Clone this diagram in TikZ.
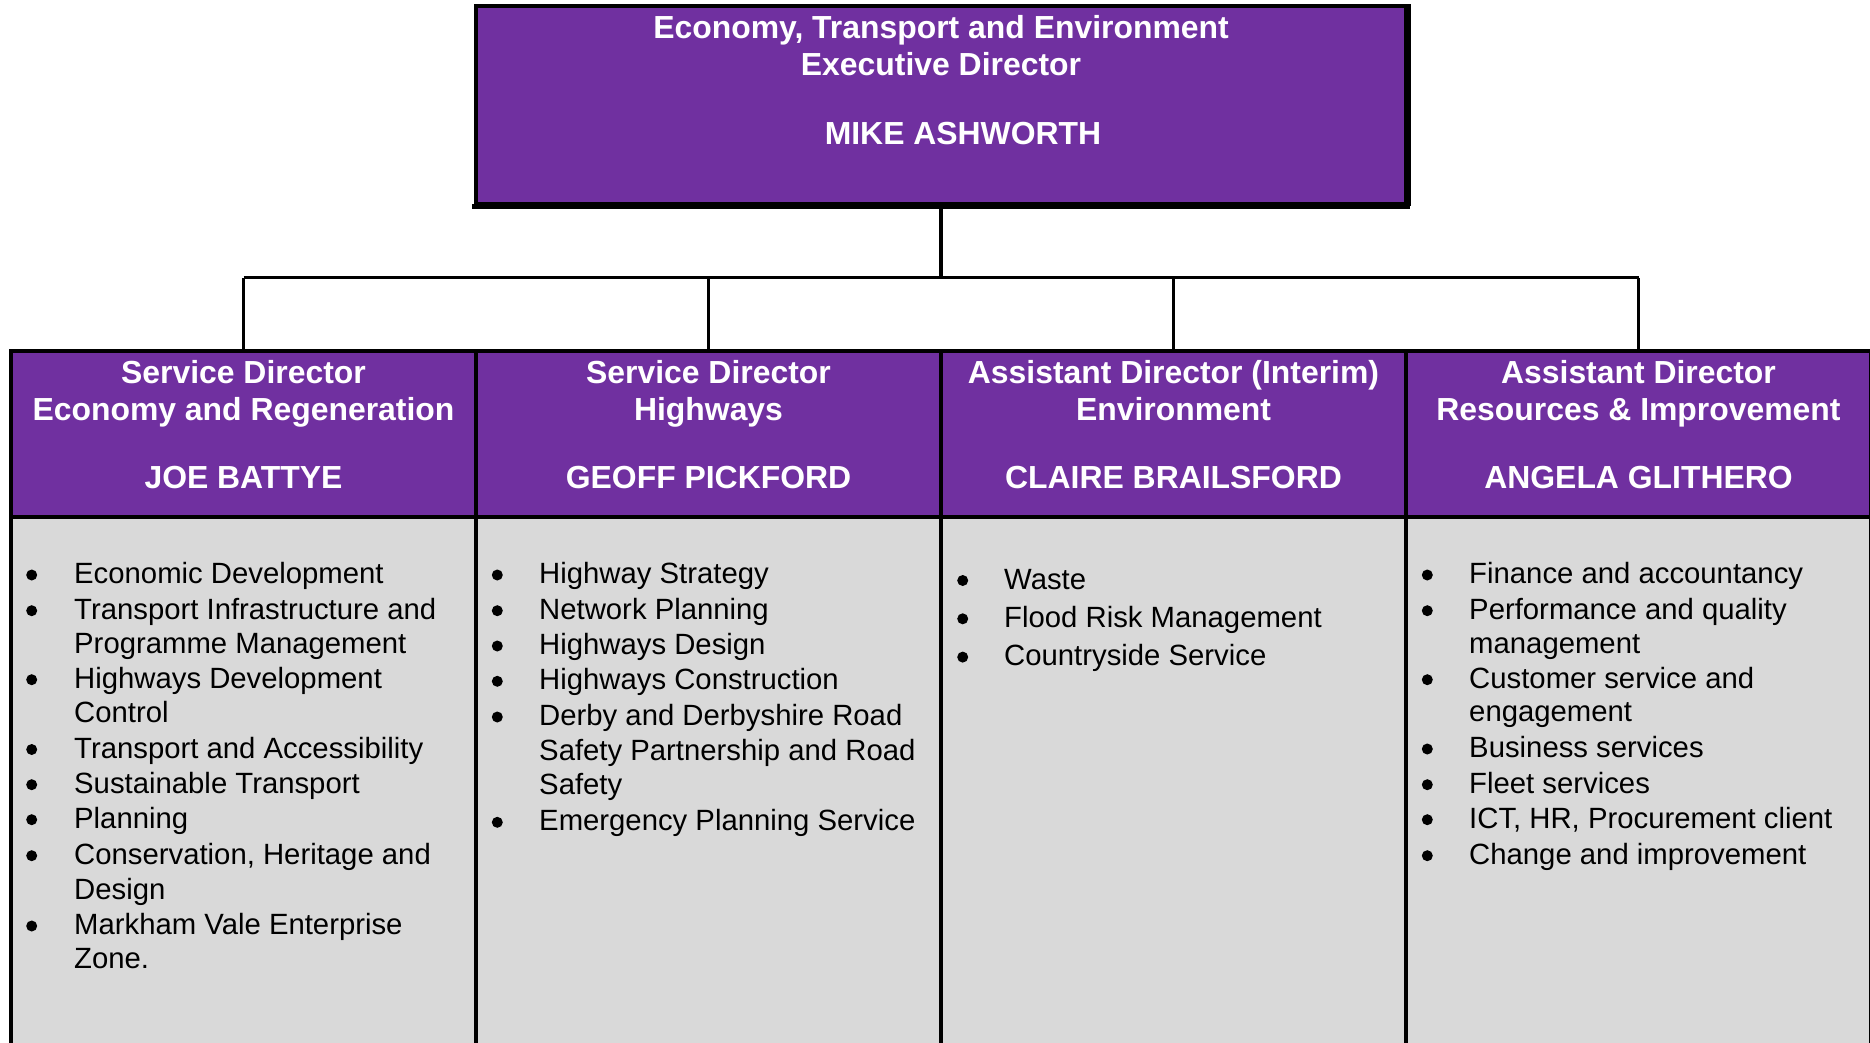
\documentclass[tikz,border=0pt]{standalone}
\usepackage{fontspec}
\setmainfont{Liberation Sans}
\definecolor{ppl}{HTML}{7030A0}
\definecolor{gry}{HTML}{D9D9D9}
\begin{document}
\begin{tikzpicture}[x=1pt,y=-1pt,
  ln/.style={line width=3.8pt, draw=black},
  topbox/.style={ln, fill=ppl, minimum width=930pt, minimum height=198pt, inner sep=0},
  hbox/.style={ln, fill=ppl, minimum width=465pt, minimum height=166pt, inner sep=0},
  bbox/.style={ln, fill=gry, minimum width=465pt, minimum height=600pt, inner sep=0},
  htxt/.style={font=\fontsize{31.9}{37}\selectfont\bfseries, text=white, anchor=base, inner sep=0},
  btxt/.style={font=\fontsize{29.3}{35}\selectfont, text=black, anchor=base west, inner sep=0},
  bul/.style={circle, fill=black, inner sep=0, minimum size=11pt}]
\useasboundingbox (0,0) rectangle (1870,1043);
\clip (0,0) rectangle (1870,1043);

% boxes
\node[bbox] (b1) at (243.5,817) {};
\node[bbox] (b2) at (708.5,817) {};
\node[bbox] (b3) at (1173.5,817) {};
\node[bbox] (b4) at (1638.5,817) {};
\node[hbox] (h1) at (243.5,434) {};
\node[hbox] (h2) at (708.5,434) {};
\node[hbox] (h3) at (1173.5,434) {};
\node[hbox] (h4) at (1638.5,434) {};
\node[topbox] (top) at (941,105) {};
\draw[line width=5pt] ([yshift=-1pt,xshift=-1.9pt]top.south west) -- ([yshift=-1pt,xshift=2.5pt]top.south east);
\draw[line width=4.5pt] ([xshift=0.8pt]top.north east) -- ([xshift=0.8pt]top.south east);

% connectors
\coordinate (bus) at (941,277.5);
\draw[ln] (top.south) -- (bus);
\draw[ln] (h1.north |- bus) -- (h4.north |- bus);
\foreach \h in {h1,h2,h3,h4} \draw[ln] (\h.north |- bus) -- (\h.north);

% top text
\node[htxt] (t1) at (941,38.5) {Economy, Transport and Environment};
\node[htxt] (t2) at (941,75.5) {Executive Director};
\node[htxt] (t3) at (963,144.5) {MIKE ASHWORTH};

% header texts
\node[htxt] (h1a) at (243.5,383.5) {Service Director};
\node[htxt] (h1b) at (243.5,420.5) {Economy and Regeneration};
\node[htxt] (h1c) at (243.5,488.5) {JOE BATTYE};
\node[htxt] (h2a) at (708.5,383.5) {Service Director};
\node[htxt] (h2b) at (708.5,420.5) {Highways};
\node[htxt] (h2c) at (708.5,488.5) {GEOFF PICKFORD};
\node[htxt] (h3a) at (1173.5,383.5) {Assistant Director (Interim)};
\node[htxt] (h3b) at (1173.5,420.5) {Environment};
\node[htxt] (h3c) at (1173.5,488.5) {CLAIRE BRAILSFORD};
\node[htxt] (h4a) at (1638.5,383.5) {Assistant Director};
\node[htxt] (h4b) at (1638.5,420.5) {Resources \& Improvement};
\node[htxt] (h4c) at (1638.5,488.5) {ANGELA GLITHERO};

% column 1
\foreach \y [count=\i] in {583.5,619.2,688.2,758,793.2,828.2,864.2,934.5}
  \node[bul] (u1\i) at (31.7,\y-8.5) {};
\node[btxt] (c1a) at (74,583.5) {Economic Development};
\node[btxt] (c1b) at (74,619.2) {Transport Infrastructure and};
\node[btxt] (c1c) at (74,653.5) {Programme Management};
\node[btxt] (c1d) at (74,688.2) {Highways Development};
\node[btxt] (c1e) at (74,722.5) {Control};
\node[btxt] (c1f) at (74,758) {Transport and Accessibility};
\node[btxt] (c1g) at (74,793.2) {Sustainable Transport};
\node[btxt] (c1h) at (74,828.2) {Planning};
\node[btxt] (c1i) at (74,864.2) {Conservation, Heritage and};
\node[btxt] (c1j) at (74,899.2) {Design};
\node[btxt] (c1k) at (74,934.5) {Markham Vale Enterprise};
\node[btxt] (c1l) at (74,968) {Zone.};

% column 2
\foreach \y [count=\i] in {583.5,619.2,654.5,689.8,725.5,830.8}
  \node[bul] (u2\i) at (497.3,\y-8.5) {};
\node[btxt] (c2a) at (539,583.5) {Highway Strategy};
\node[btxt] (c2b) at (539,619.2) {Network Planning};
\node[btxt] (c2c) at (539,654.5) {Highways Design};
\node[btxt] (c2d) at (539,689.8) {Highways Construction};
\node[btxt] (c2e) at (539,725.5) {Derby and Derbyshire Road};
\node[btxt] (c2f) at (539,760) {Safety Partnership and Road};
\node[btxt] (c2g) at (539,794.2) {Safety};
\node[btxt] (c2h) at (539,830.8) {Emergency Planning Service};

% column 3
\foreach \y [count=\i] in {589,627.3,665.6}
  \node[bul] (u3\i) at (962.7,\y-8.5) {};
\node[btxt] (c3a) at (1004,589) {Waste};
\node[btxt] (c3b) at (1004,627.3) {Flood Risk Management};
\node[btxt] (c3c) at (1004,665.6) {Countryside Service};

% column 4
\foreach \y [count=\i] in {583.5,619.2,688.2,757.5,793.2,828.2,864.2}
  \node[bul] (u4\i) at (1427.3,\y-8.5) {};
\node[btxt] (c4a) at (1469,583.5) {Finance and accountancy};
\node[btxt] (c4b) at (1469,619.2) {Performance and quality};
\node[btxt] (c4c) at (1469,653.2) {management};
\node[btxt] (c4d) at (1469,688.2) {Customer service and};
\node[btxt] (c4e) at (1469,721.5) {engagement};
\node[btxt] (c4f) at (1469,757.5) {Business services};
\node[btxt] (c4g) at (1469,793.2) {Fleet services};
\node[btxt] (c4h) at (1469,828.2) {ICT, HR, Procurement client};
\node[btxt] (c4i) at (1469,864.2) {Change and improvement};
\end{tikzpicture}
\end{document}
